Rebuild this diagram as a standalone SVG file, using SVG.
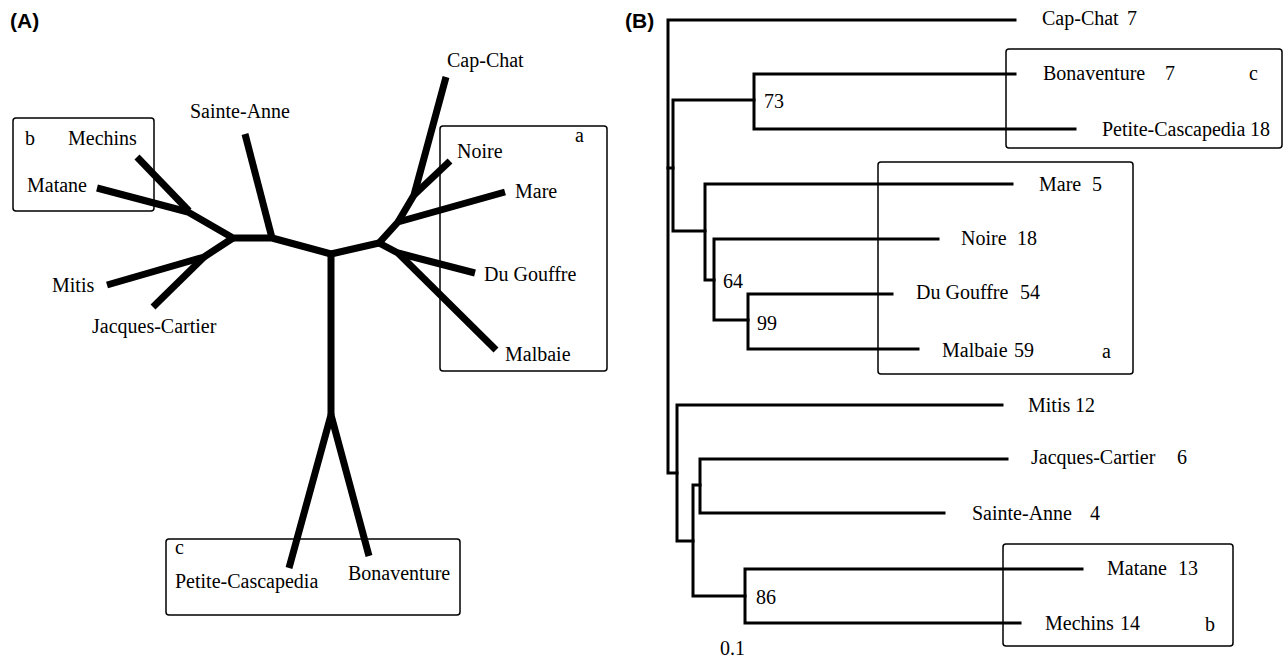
<svg xmlns="http://www.w3.org/2000/svg" width="1285" height="661" viewBox="0 0 1285 661">
<style>
.t{font-family:"Liberation Serif","Times New Roman",serif;font-size:20px;fill:#000}
.h{font-family:"Liberation Sans",Arial,sans-serif;font-size:21px;font-weight:bold;fill:#000}
.thick{fill:none;stroke:#000;stroke-width:7;stroke-linejoin:round;stroke-linecap:butt}
.thin{fill:none;stroke:#000;stroke-width:3;stroke-linejoin:miter;stroke-linecap:square}
.box{fill:none;stroke:#000;stroke-width:1.5}
</style>
<rect width="1285" height="661" fill="#fff"/>
<text class="h" x="10" y="28">(A)</text>
<text class="h" x="625" y="28">(B)</text>

<!-- Panel A -->
<g id="A-groups">
<rect id="A-box-b" class="box" x="13" y="118" width="141" height="93" rx="3"/>
<rect id="A-box-a" class="box" x="440" y="126" width="167" height="245" rx="3"/>
<rect id="A-box-c" class="box" x="166" y="539" width="294" height="76" rx="3"/>
<text class="t" x="25" y="145">b</text>
<text class="t" x="575" y="142">a</text>
<text class="t" x="175" y="554">c</text>
</g>
<g id="A-connectors">
<path class="thick" d="M137,157 L189,211"/>
<path class="thick" d="M97,188 L188,212 L233,238 L272,238 L331,254 L379,243"/>
<path class="thick" d="M107,285 L204,257 L233,238"/>
<path class="thick" d="M153,307 L204,257"/>
<path class="thick" d="M245,134 L272,238"/>
<path class="thick" d="M331,254 L331,415"/>
<path class="thick" d="M289,568 L331,415 L369,556"/>
<path class="thick" d="M379,243 L398,222 L505,192"/>
<path class="thick" d="M398,222 L414,195 L446,77"/>
<path class="thick" d="M414,195 L450,161"/>
<path class="thick" d="M379,243 L398,253 L475,273"/>
<path class="thick" d="M398,253 L496,350"/>
</g>
<g id="A-leaves">
<g id="A-mechins"><text class="t" x="68" y="145">Mechins</text></g>
<g id="A-matane"><text class="t" x="27" y="192">Matane</text></g>
<g id="A-sainte-anne"><text class="t" x="190" y="118">Sainte-Anne</text></g>
<g id="A-mitis"><text class="t" x="52" y="292">Mitis</text></g>
<g id="A-jacques-cartier"><text class="t" x="92" y="333">Jacques-Cartier</text></g>
<g id="A-cap-chat"><text class="t" x="447" y="67">Cap-Chat</text></g>
<g id="A-noire"><text class="t" x="457" y="158">Noire</text></g>
<g id="A-mare"><text class="t" x="515" y="198">Mare</text></g>
<g id="A-du-gouffre"><text class="t" x="484" y="281">Du Gouffre</text></g>
<g id="A-malbaie"><text class="t" x="505" y="361">Malbaie</text></g>
<g id="A-petite-cascapedia"><text class="t" x="175" y="588">Petite-Cascapedia</text></g>
<g id="A-bonaventure"><text class="t" x="348" y="580">Bonaventure</text></g>
</g>

<!-- Panel B -->
<g id="B-groups">
<rect id="B-box-c" class="box" x="1006" y="49" width="276" height="99" rx="3"/>
<rect id="B-box-a" class="box" x="878" y="162" width="255" height="212" rx="3"/>
<rect id="B-box-b" class="box" x="1003" y="544" width="230" height="102" rx="3"/>
<text class="t" x="1249" y="80">c</text>
<text class="t" x="1102" y="358">a</text>
<text class="t" x="1205" y="631">b</text>
</g>
<g id="B-connectors">
<path class="thin" d="M1015,20 L668,20 L668,473 L677,473"/>
<path class="thin" d="M668,168 L673,168"/>
<path class="thin" d="M754,100 L673,100 L673,231 L705,231"/>
<path class="thin" d="M1015,74 L754,74 L754,129 L1075,129"/>
<path class="thin" d="M1012,184 L705,184 L705,280 L714,280"/>
<path class="thin" d="M938,239 L714,239 L714,320 L748,320"/>
<path class="thin" d="M892,294 L748,294 L748,349 L918,349"/>
<path class="thin" d="M1002,405 L677,405 L677,541 L693,541"/>
<path class="thin" d="M700,485 L693,485 L693,596 L745,596"/>
<path class="thin" d="M1007,459 L700,459 L700,513 L944,513"/>
<path class="thin" d="M1082,569 L745,569 L745,623 L1020,623"/>
</g>
<g id="B-support">
<text class="t" x="764" y="108">73</text>
<text class="t" x="723" y="288">64</text>
<text class="t" x="757" y="330">99</text>
<text class="t" x="756" y="604">86</text>
<text class="t" x="720" y="655">0.1</text>
</g>
<g id="B-leaves">
<g id="B-cap-chat"><text class="t" x="1042" y="25">Cap-Chat<tspan x="1127">7</tspan></text></g>
<g id="B-bonaventure"><text class="t" x="1043" y="80">Bonaventure<tspan x="1165">7</tspan></text></g>
<g id="B-petite-cascapedia"><text class="t" x="1102" y="136">Petite-Cascapedia<tspan x="1250">18</tspan></text></g>
<g id="B-mare"><text class="t" x="1039" y="191">Mare<tspan x="1092">5</tspan></text></g>
<g id="B-noire"><text class="t" x="961" y="245">Noire<tspan x="1017">18</tspan></text></g>
<g id="B-du-gouffre"><text class="t" x="916" y="299">Du Gouffre<tspan x="1020">54</tspan></text></g>
<g id="B-malbaie"><text class="t" x="942" y="357">Malbaie<tspan x="1014">59</tspan></text></g>
<g id="B-mitis"><text class="t" x="1028" y="412">Mitis<tspan x="1075">12</tspan></text></g>
<g id="B-jacques-cartier"><text class="t" x="1031" y="464">Jacques-Cartier<tspan x="1177">6</tspan></text></g>
<g id="B-sainte-anne"><text class="t" x="972" y="520">Sainte-Anne<tspan x="1090">4</tspan></text></g>
<g id="B-matane"><text class="t" x="1107" y="575">Matane<tspan x="1178">13</tspan></text></g>
<g id="B-mechins"><text class="t" x="1045" y="630">Mechins<tspan x="1120">14</tspan></text></g>
</g>
</svg>
